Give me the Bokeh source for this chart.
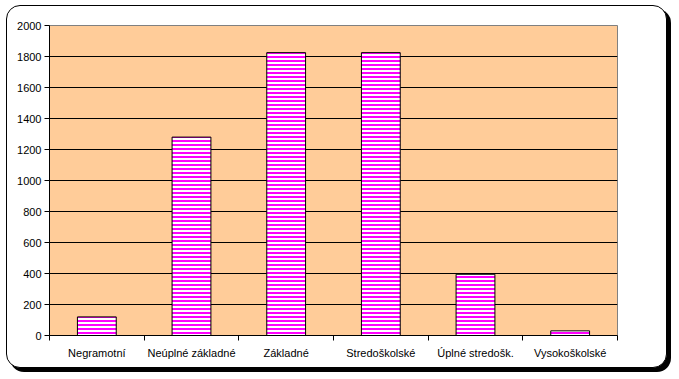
from bokeh.plotting import figure
from bokeh.models import Range1d, FixedTicker
from bokeh.embed import file_html
from bokeh.resources import INLINE

categories = ["Negramotní", "Neúplné základné", "Základné", "Stredoškolské", "Úplné stredošk.", "Vysokoškolské"]
values = [120, 1280, 1825, 1825, 395, 30]
y_ticks = [0, 200, 400, 600, 800, 1000, 1200, 1400, 1600, 1800, 2000]

W, H = 661, 363
n = len(categories)
centers = [i + 0.5 for i in range(n)]

p = figure(width=W, height=H, output_backend="svg", toolbar_location=None,
           x_range=Range1d(0, n), y_range=Range1d(0, 2000),
           min_border_left=42, min_border_right=51, min_border_top=19, min_border_bottom=34)
p.styles = {"margin-left": "6px", "margin-top": "5px",
            "border": "1px solid black", "border-radius": "14px",
            "box-shadow": "4px 4px 0px 0px black", "background-color": "white"}
p.border_fill_color = None
p.background_fill_color = "#FFCC99"
p.outline_line_color = "#808080"
p.outline_line_width = 1

p.vbar(x=centers, top=values, bottom=0, width=0.41,
       fill_color="white", line_color="black", line_width=1,
       hatch_pattern="horizontal_line", hatch_color="#FF00FF", hatch_scale=4, hatch_weight=2)

p.xgrid.visible = False
p.ygrid.ticker = FixedTicker(ticks=y_ticks[:-1])
p.ygrid.grid_line_color = "black"
p.ygrid.grid_line_width = 1

p.yaxis.ticker = FixedTicker(ticks=y_ticks)
p.yaxis.axis_line_color = "black"
p.yaxis.major_tick_out = 5
p.yaxis.major_tick_in = 0
p.yaxis.minor_tick_line_color = None
p.yaxis.major_label_standoff = 3
p.yaxis.major_label_text_font = "Liberation Sans"
p.yaxis.major_label_text_font_size = "11px"
p.yaxis.major_label_text_color = "black"

p.xaxis.ticker = FixedTicker(ticks=centers, minor_ticks=list(range(n + 1)))
p.xaxis.major_label_overrides = {c: lab for c, lab in zip(centers, categories)}
p.xaxis.axis_line_color = "black"
p.xaxis.major_tick_out = 0
p.xaxis.major_tick_in = 0
p.xaxis.minor_tick_out = 5
p.xaxis.minor_tick_in = 0
p.xaxis.minor_tick_line_color = "black"
p.xaxis.major_label_standoff = 6
p.xaxis.major_label_text_font = "Liberation Sans"
p.xaxis.major_label_text_font_size = "11px"
p.xaxis.major_label_text_color = "black"

open("out.html", "w").write(file_html(p, INLINE))
